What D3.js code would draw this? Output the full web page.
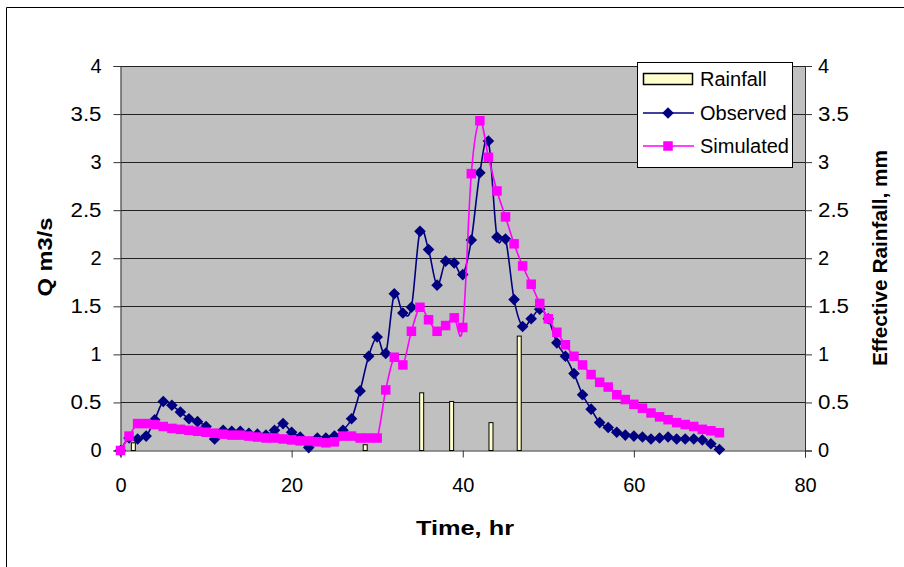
<!DOCTYPE html>
<html>
<head>
<meta charset="utf-8">
<script src="https://cdn.jsdelivr.net/npm/d3@7/dist/d3.min.js"></script>
<style>
  html, body { margin: 0; padding: 0; background: #fff; }
  svg { display: block; font-family: "Liberation Sans", Arial, sans-serif; }
</style>
</head>
<body>
<svg id="chart" width="904" height="567"></svg>
<script>
// ---- Data ----
const hours = d3.range(0, 71); // 0..70 hr
const observed = [
  0.00, 0.13, 0.12, 0.15, 0.32, 0.51, 0.47, 0.40, 0.33, 0.30,
  0.25, 0.12, 0.21, 0.20, 0.20, 0.18, 0.17, 0.16, 0.21, 0.28,
  0.19, 0.14, 0.03, 0.13, 0.13, 0.15, 0.21, 0.33, 0.62, 0.98,
  1.18, 1.01, 1.63, 1.43, 1.49, 2.28, 2.09, 1.72, 1.97, 1.95,
  1.83, 2.19, 2.89, 3.22, 2.22, 2.20, 1.57, 1.29, 1.37, 1.47,
  1.37, 1.12, 0.98, 0.80, 0.58, 0.43, 0.29, 0.24, 0.19, 0.16,
  0.15, 0.14, 0.12, 0.13, 0.14, 0.12, 0.12, 0.12, 0.11, 0.07,
  0.01
];
const simulated = [
  0.00, 0.15, 0.28, 0.28, 0.27, 0.25, 0.23, 0.22, 0.21, 0.20,
  0.19, 0.18, 0.17, 0.16, 0.16, 0.15, 0.14, 0.13, 0.13, 0.12,
  0.11, 0.10, 0.10, 0.09, 0.08, 0.09, 0.15, 0.15, 0.13, 0.13,
  0.13, 0.63, 0.97, 0.89, 1.24, 1.49, 1.36, 1.24, 1.30, 1.38,
  1.28, 2.88, 3.43, 3.05, 2.70, 2.43, 2.15, 1.92, 1.73, 1.53,
  1.37, 1.23, 1.10, 0.98, 0.89, 0.79, 0.71, 0.66, 0.58, 0.53,
  0.48, 0.44, 0.39, 0.35, 0.32, 0.29, 0.27, 0.25, 0.22, 0.205,
  0.185
];
const rainTime = [1.5, 28.6, 35.2, 38.7, 43.3, 46.6];
const rainfall = [0.08, 0.06, 0.60, 0.51, 0.29, 1.19];

const qTicks = [0, 0.5, 1, 1.5, 2, 2.5, 3, 3.5, 4];
const qTickLabels = ["0", "0.5", "1", "1.5", "2", "2.5", "3", "3.5", "4"];
const xTicks = [0, 20, 40, 60, 80];
const xTickLabels = ["0", "20", "40", "60", "80"];

const seriesNames = ["Rainfall", "Observed", "Simulated"];
const xTitle = "Time, hr";
const yTitle = "Q m3/s";
const y2Title = "Effective Rainfall, mm";

// ---- Layout ----
const svg = d3.select("#chart");
const L = 120.5, R = 805, T = 66, B = 450.5;

const x = d3.scaleLinear().domain([0, 80]).range([L, R]);
const y = d3.scaleLinear().domain([0, 4]).range([B, T]);
const y2 = d3.scaleLinear().domain([0, 4]).range([B, T]);

// outer frame
svg.append("path")
  .attr("d", "M6.5,570 L6.5,7.5 L910,7.5")
  .attr("fill", "none").attr("stroke", "#000").attr("stroke-width", 1);

// plot area
svg.append("rect")
  .attr("x", L).attr("y", T).attr("width", R - L).attr("height", B - T)
  .attr("fill", "#C0C0C0");

// gridlines
svg.append("g").selectAll("line").data(qTicks.filter(d => d > 0)).join("line")
  .attr("x1", L).attr("x2", R)
  .attr("y1", d => Math.round(y(d)) + 0.5).attr("y2", d => Math.round(y(d)) + 0.5)
  .attr("stroke", "#222").attr("stroke-width", 1);

// axes
const fmtIdx = (arr, labels) => d => labels[arr.indexOf(d)];
const axL = svg.append("g").attr("transform", `translate(${L},0)`)
  .call(d3.axisLeft(y).tickValues(qTicks).tickFormat(fmtIdx(qTicks, qTickLabels)).tickSize(7).tickPadding(12));
const axR = svg.append("g").attr("transform", `translate(${R},0)`)
  .call(d3.axisRight(y2).tickValues(qTicks).tickFormat(fmtIdx(qTicks, qTickLabels)).tickSize(7).tickPadding(6));
const axB = svg.append("g").attr("transform", `translate(0,${B})`)
  .call(d3.axisBottom(x).tickValues(xTicks).tickFormat(fmtIdx(xTicks, xTickLabels)).tickSize(7).tickPadding(20));
[axL, axR, axB].forEach(g => {
  g.selectAll(".domain").attr("stroke", "#333").attr("stroke-width", 1);
  g.selectAll(".tick line").attr("stroke", "#333");
  g.selectAll(".tick text").attr("font-size", 20).attr("fill", "#000")
    .attr("font-family", "'Liberation Sans', Arial, sans-serif");
});
// decimal labels in the reference are a bit wider
[axL, axR].forEach(g => {
  g.selectAll(".tick text").filter(function() { return this.textContent.length === 3; })
    .attr("textLength", 31).attr("lengthAdjust", "spacingAndGlyphs");
});

// rainfall bars
const barW = 4;
svg.append("g").selectAll("rect").data(rainTime).join("rect")
  .attr("x", (d) => x(d) - barW / 2)
  .attr("y", (d, i) => y2(rainfall[i]))
  .attr("width", barW)
  .attr("height", (d, i) => B - y2(rainfall[i]))
  .attr("fill", "#FFFFCC").attr("stroke", "#000").attr("stroke-width", 1);

const curve = d3.curveCatmullRom.alpha(0);
const line = d3.line().x((d, i) => x(hours[i])).y(d => y(d)).curve(curve);

// observed
svg.append("path").datum(observed).attr("d", line)
  .attr("fill", "none").attr("stroke", "#000080").attr("stroke-width", 1.6);
const dr = 5.8;
const diamond = `M0,${-dr}L${dr},0L0,${dr}L${-dr},0Z`;
svg.append("g").selectAll("path").data(observed).join("path")
  .attr("d", diamond)
  .attr("transform", (d, i) => `translate(${x(hours[i])},${y(d)})`)
  .attr("fill", "#000080");

// simulated
svg.append("path").datum(simulated).attr("d", line)
  .attr("fill", "none").attr("stroke", "#FF00FF").attr("stroke-width", 1.6);
const sq = 9.5;
svg.append("g").selectAll("rect").data(simulated).join("rect")
  .attr("x", (d, i) => x(hours[i]) - sq / 2)
  .attr("y", d => y(d) - sq / 2)
  .attr("width", sq).attr("height", sq)
  .attr("fill", "#FF00FF");

// axis titles
svg.append("text").text(xTitle)
  .attr("x", 465).attr("y", 535).attr("text-anchor", "middle")
  .attr("font-size", 21).attr("font-weight", "bold")
  .attr("textLength", 98).attr("lengthAdjust", "spacingAndGlyphs");
svg.append("text").text(yTitle)
  .attr("transform", "translate(52,257) rotate(-90)").attr("text-anchor", "middle")
  .attr("font-size", 21).attr("font-weight", "bold")
  .attr("textLength", 79).attr("lengthAdjust", "spacingAndGlyphs");
svg.append("text").text(y2Title)
  .attr("transform", "translate(887,258) rotate(-90)").attr("text-anchor", "middle")
  .attr("font-size", 21).attr("font-weight", "bold")
  .attr("textLength", 216).attr("lengthAdjust", "spacingAndGlyphs");

// legend
const lg = svg.append("g");
lg.append("rect").attr("x", 637.5).attr("y", 62.5).attr("width", 155).attr("height", 105)
  .attr("fill", "#fff").attr("stroke", "#000").attr("stroke-width", 1);
const rowY = [79, 113, 146];
lg.append("rect").attr("x", 643.5).attr("y", rowY[0] - 5.5).attr("width", 49).attr("height", 11)
  .attr("fill", "#FFFFCC").attr("stroke", "#000").attr("stroke-width", 1.5);
lg.append("line").attr("x1", 643).attr("x2", 694).attr("y1", rowY[1]).attr("y2", rowY[1])
  .attr("stroke", "#000080").attr("stroke-width", 1.6);
lg.append("path").attr("d", diamond).attr("transform", `translate(668,${rowY[1]})`).attr("fill", "#000080");
lg.append("line").attr("x1", 643).attr("x2", 694).attr("y1", rowY[2]).attr("y2", rowY[2])
  .attr("stroke", "#FF00FF").attr("stroke-width", 1.6);
lg.append("rect").attr("x", 668 - sq / 2).attr("y", rowY[2] - sq / 2).attr("width", sq).attr("height", sq).attr("fill", "#FF00FF");
lg.selectAll("text.lab").data(seriesNames).join("text").attr("class", "lab")
  .text(d => d)
  .attr("x", 700).attr("y", (d, i) => rowY[i]).attr("dy", "0.35em")
  .attr("font-size", 20);
</script>
</body>
</html>
